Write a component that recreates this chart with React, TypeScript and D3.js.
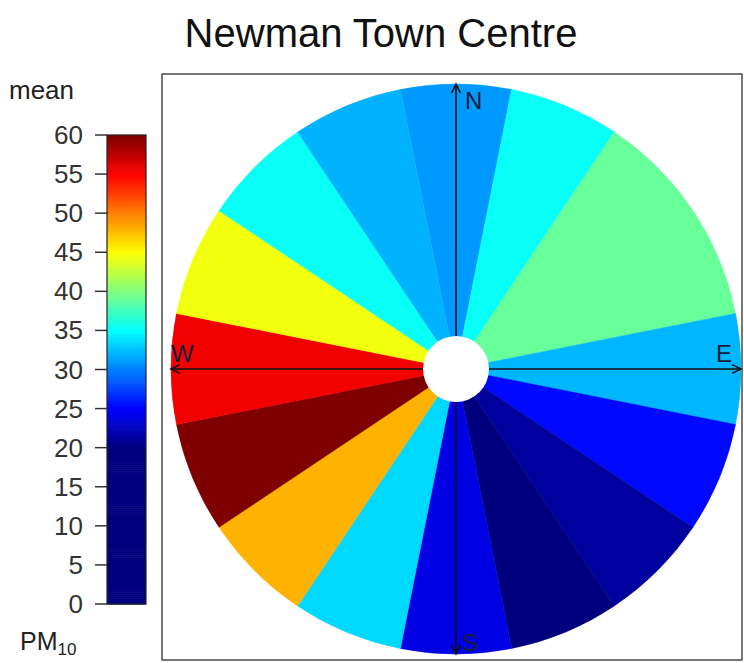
import React from "react";
import * as d3 from "d3";

const directions = ["N", "NNE", "NE", "ENE", "E", "ESE", "SE", "SSE", "S", "SSW", "SW", "WSW", "W", "WNW", "NW", "NNW"];
const meanPM10 = [31, 35.3, 39, 39, 32.2, 25.3, 21.2, 19, 24, 33.5, 48, 60, 55.5, 44.5, 35.3, 32];
const keyTicks = [0, 5, 10, 15, 20, 25, 30, 35, 40, 45, 50, 55, 60];
const jetColours = ["#00007F", "#0000FF", "#007FFF", "#00FFFF", "#7FFF7F", "#FFFF00", "#FF7F00", "#FF0000", "#7F0000"];
const jetStops = [20, 25, 30, 35, 40, 45, 50, 55, 60];
const compass = [
  { label: "N", angle: 0 },
  { label: "E", angle: 90 },
  { label: "S", angle: 180 },
  { label: "W", angle: 270 },
];

const W = 744;
const H = 663;

export default function App() {
  const colour = d3.scaleLinear<string>().domain(jetStops).range(jetColours).clamp(true);
  const cx = 456;
  const cy = 369;
  const R = 285;
  const r0 = 33;
  const step = (2 * Math.PI) / directions.length;
  const arc = d3.arc<any>();

  const keyY = d3.scaleLinear().domain([0, 60]).range([604, 135]);
  const keyX0 = 107;
  const keyX1 = 146;
  const keySteps = d3.range(0, 60, 0.25);

  const arrowLen = 10;
  const arrowHead = (x: number, y: number, ang: number) => {
    const a1 = ang + Math.PI - 0.45;
    const a2 = ang + Math.PI + 0.45;
    return `M${x + arrowLen * Math.cos(a1)},${y + arrowLen * Math.sin(a1)}L${x},${y}L${x + arrowLen * Math.cos(a2)},${y + arrowLen * Math.sin(a2)}`;
  };

  return (
    <svg width={W} height={H} style={{ position: "absolute", left: 0, top: 0, fontFamily: "'Liberation Sans', Arial, sans-serif" }}>
      <rect x={0} y={0} width={W} height={H} fill="#fff" />
      <text x={381} y={47} fontSize={40} textAnchor="middle" fill="#111">Newman Town Centre</text>

      {/* colour key */}
      <text x={9} y={99} fontSize={26} fill="#222">mean</text>
      {keySteps.map((v) => (
        <rect key={v} x={keyX0} y={keyY(v + 0.25)} width={keyX1 - keyX0} height={keyY(v) - keyY(v + 0.25) + 0.6} fill={colour(v + 0.125)} />
      ))}
      <rect x={keyX0} y={keyY(60)} width={keyX1 - keyX0} height={keyY(0) - keyY(60)} fill="none" stroke="#222" strokeWidth={1.2} />
      {keyTicks.map((t) => (
        <g key={t}>
          <line x1={95} x2={keyX0} y1={keyY(t)} y2={keyY(t)} stroke="#333" strokeWidth={1.5} />
          <text x={83} y={keyY(t) + 9} fontSize={26} textAnchor="end" fill="#333">{t}</text>
        </g>
      ))}
      <text x={20} y={650} fontSize={25} fill="#222">PM<tspan fontSize={17} dy={5}>10</tspan></text>

      {/* plot box */}
      <rect x={162} y={74} width={580} height={586} fill="none" stroke="#555" strokeWidth={1.6} />

      {/* sectors */}
      <g transform={`translate(${cx},${cy})`}>
        {directions.map((d, i) => (
          <path
            key={d}
            d={arc({ innerRadius: 0, outerRadius: R, startAngle: i * step - step / 2, endAngle: i * step + step / 2 }) as string}
            fill={colour(meanPM10[i])}
            stroke={colour(meanPM10[i])}
            strokeWidth={0.5}
          />
        ))}
      </g>

      {/* compass axes */}
      <line x1={cx} x2={cx} y1={cy - R} y2={cy + R} stroke="#111" strokeWidth={1.6} />
      <line x1={cx - R} x2={cx + R} y1={cy} y2={cy} stroke="#111" strokeWidth={1.6} />
      {compass.map((c) => {
        const a = (c.angle * Math.PI) / 180;
        const x = cx + R * Math.sin(a);
        const y = cy - R * Math.cos(a);
        const screenAng = Math.atan2(-Math.cos(a), Math.sin(a));
        return <path key={c.label} d={arrowHead(x, y, screenAng)} fill="none" stroke="#111" strokeWidth={1.6} />;
      })}
      <circle cx={cx} cy={cy} r={r0} fill="#fff" />

      <text x={465} y={109} fontSize={24} fill="#1a1a3a">N</text>
      <text x={716} y={362} fontSize={24} fill="#1a1a3a">E</text>
      <text x={462} y={651} fontSize={24} fill="#1a1a3a">S</text>
      <text x={171} y={362} fontSize={24} fill="#1a1a3a">W</text>
    </svg>
  );
}
